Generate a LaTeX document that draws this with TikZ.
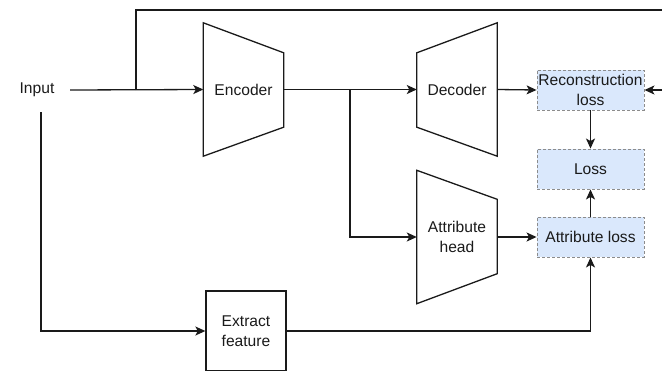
\documentclass[tikz,border=0pt]{standalone}
\usepackage{fontspec}
\setmainfont{Liberation Sans}
\usetikzlibrary{arrows.meta,calc}
\definecolor{lossfill}{HTML}{DAE8FC}
\definecolor{lossdraw}{HTML}{8C8C8C}
\definecolor{ink}{HTML}{1A1A1A}
\begin{document}
\begin{tikzpicture}[x=1pt,y=-1pt,
  font=\fontsize{15.6}{20}\selectfont,
  conn/.style={draw=ink,line width=1.3pt},
  arr/.style={conn,-{Stealth[length=10pt,width=9pt,inset=2.5pt]}},
  trapbox/.style={minimum width=80pt,minimum height=133pt,inner sep=0pt,align=center,text=ink},
  lossbox/.style={draw=lossdraw,fill=lossfill,dashed,dash pattern=on 3pt off 2pt,line width=0.9pt,
    minimum width=107pt,minimum height=40pt,inner sep=0pt,align=center,text=ink},
  plainbox/.style={draw=ink,line width=1.3pt,minimum width=80pt,minimum height=80pt,inner sep=0pt,align=center,text=ink}
]
\useasboundingbox (0,0) rectangle (662,370);
\clip (0,0) rectangle (662,370);

% nodes
\node[minimum width=66pt,minimum height=44pt,inner sep=0pt,text=ink] (inp) at (37,90) {Input};
\node[trapbox] (enc) at (243.5,89.5) {Encoder};
\node[trapbox] (dec) at (457,89.5) {Decoder};
\node[trapbox] (att) at (457,237) {Attribute\\head};
\node[lossbox] (rec) at (590.5,90) {Reconstruction\\loss};
\node[lossbox] (los) at (590.5,169) {Loss};
\node[lossbox] (al) at (590.5,237) {Attribute loss};
\node[plainbox] (ext) at (246,331) {Extract\\feature};

% trapezoid outlines
\draw[conn,line join=miter] (enc.north west) -- ($(enc.north east)+(0,30)$) -- ($(enc.south east)+(0,-29)$) -- (enc.south west) -- cycle;
\draw[conn,line join=miter] ($(dec.north west)+(0,30)$) -- (dec.north east) -- (dec.south east) -- ($(dec.south west)+(0,-29)$) -- cycle;
\draw[conn,line join=miter] (att.north west) -- ($(att.north east)+(0,29)$) -- ($(att.south east)+(0,-30)$) -- (att.south west) -- cycle;

% junction coordinates
\coordinate (j1) at (136,90);
\coordinate (j2) at (350,90);
\coordinate (top) at (136,10);
\coordinate (far) at (675,10);

% connectors
\draw[arr] (inp.east) -- (enc.west);
\draw[arr] (j1) -- (top) -- (far) |- (rec.east);
\draw[arr] (enc.east) -- (dec.west);
\draw[arr] (j2) |- (att.west);
\draw[arr] (dec.east) -- (rec.west);
\draw[arr] (att.east) -- (al.west);
\draw[arr] (rec.south) -- (los.north);
\draw[arr] (al.north) -- (los.south);
\draw[arr] ([xshift=4pt]inp.south) |- (ext.west);
\draw[arr] (ext.east) -| (al.south);
\end{tikzpicture}
\end{document}
